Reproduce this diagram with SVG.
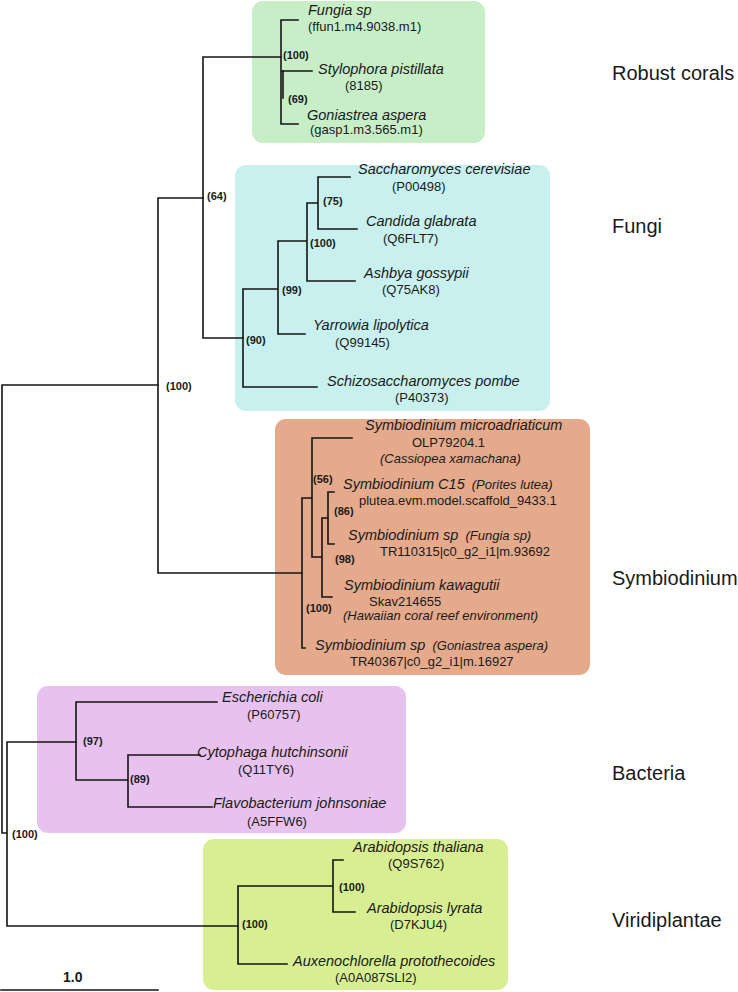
<svg xmlns="http://www.w3.org/2000/svg" width="738" height="992" viewBox="0 0 738 992">
<style>
.t{font-family:"Liberation Sans",Arial,Helvetica,sans-serif;fill:#1a1a1a}
.sp{font-size:14.5px;font-style:italic}
.ss{font-size:13px;font-style:italic}
.id{font-size:13px}
.bs{font-size:11px;font-weight:bold}
.grp{font-size:20px}
.br{stroke:#141414;stroke-width:1.6;fill:none;stroke-linecap:square}
</style>
<rect width="738" height="992" fill="#ffffff"/>
<g id="robust-corals">
<rect x="252" y="1" width="233" height="142" rx="11" fill="#c8eec8"/>
<text class="t sp" x="308" y="15">Fungia sp</text>
<text class="t id" x="308" y="31">(ffun1.m4.9038.m1)</text>
<text class="t bs" x="283" y="59">(100)</text>
<text class="t sp" x="318" y="74">Stylophora pistillata</text>
<text class="t id" x="345" y="90">(8185)</text>
<text class="t bs" x="288" y="103">(69)</text>
<text class="t sp" x="307" y="120">Goniastrea aspera</text>
<text class="t id" x="310" y="134">(gasp1.m3.565.m1)</text>
<text class="t grp" x="612" y="80">Robust corals</text>
</g>
<g id="fungi">
<rect x="235" y="165" width="315" height="246" rx="11" fill="#c8f0ee"/>
<text class="t sp" x="358" y="174">Saccharomyces cerevisiae</text>
<text class="t id" x="392" y="191">(P00498)</text>
<text class="t bs" x="323" y="205">(75)</text>
<text class="t sp" x="366" y="226">Candida glabrata</text>
<text class="t id" x="383" y="243">(Q6FLT7)</text>
<text class="t bs" x="310" y="247">(100)</text>
<text class="t sp" x="364" y="278">Ashbya gossypii</text>
<text class="t id" x="382" y="294">(Q75AK8)</text>
<text class="t bs" x="282" y="294">(99)</text>
<text class="t sp" x="313" y="330">Yarrowia lipolytica</text>
<text class="t id" x="335" y="347">(Q99145)</text>
<text class="t bs" x="246" y="344">(90)</text>
<text class="t sp" x="327" y="386">Schizosaccharomyces pombe</text>
<text class="t id" x="395" y="402">(P40373)</text>
<text class="t grp" x="612" y="233">Fungi</text>
</g>
<g id="symbiodinium">
<rect x="275" y="419" width="315" height="256" rx="11" fill="#e5aa8c"/>
<text class="t sp" x="365" y="430">Symbiodinium microadriaticum</text>
<text class="t id" x="412" y="447">OLP79204.1</text>
<text class="t ss" x="380" y="463">(Cassiopea xamachana)</text>
<text class="t bs" x="313" y="483">(56)</text>
<text class="t sp" x="343" y="489">Symbiodinium C15 <tspan class="ss" dx="3">(Porites lutea)</tspan></text>
<text class="t id" x="359" y="505">plutea.evm.model.scaffold_9433.1</text>
<text class="t bs" x="334" y="515">(86)</text>
<text class="t sp" x="348" y="540">Symbiodinium sp <tspan class="ss" dx="3">(Fungia sp)</tspan></text>
<text class="t id" x="380" y="556">TR110315|c0_g2_i1|m.93692</text>
<text class="t bs" x="335" y="563">(98)</text>
<text class="t sp" x="344" y="590">Symbiodinium kawagutii</text>
<text class="t id" x="369" y="606">Skav214655</text>
<text class="t bs" x="306" y="612">(100)</text>
<text class="t ss" x="343" y="620">(Hawaiian coral reef environment)</text>
<text class="t sp" x="315" y="650">Symbiodinium sp <tspan class="ss" dx="3">(Goniastrea aspera)</tspan></text>
<text class="t id" x="350" y="666">TR40367|c0_g2_i1|m.16927</text>
<text class="t grp" x="612" y="585">Symbiodinium</text>
</g>
<g id="bacteria">
<rect x="37" y="686" width="369" height="147" rx="11" fill="#e8c2ee"/>
<text class="t sp" x="222" y="702">Escherichia coli</text>
<text class="t id" x="247" y="719">(P60757)</text>
<text class="t bs" x="83" y="745">(97)</text>
<text class="t sp" x="197" y="757">Cytophaga hutchinsonii</text>
<text class="t id" x="238" y="774">(Q11TY6)</text>
<text class="t bs" x="130" y="783">(89)</text>
<text class="t sp" x="213" y="808">Flavobacterium johnsoniae</text>
<text class="t id" x="247" y="826">(A5FFW6)</text>
<text class="t grp" x="612" y="780">Bacteria</text>
</g>
<g id="viridiplantae">
<rect x="203" y="839" width="305" height="151" rx="11" fill="#d8ee92"/>
<text class="t sp" x="353" y="852">Arabidopsis thaliana</text>
<text class="t id" x="388" y="868">(Q9S762)</text>
<text class="t bs" x="339" y="891">(100)</text>
<text class="t sp" x="367" y="913">Arabidopsis lyrata</text>
<text class="t id" x="390" y="929">(D7KJU4)</text>
<text class="t bs" x="242" y="928">(100)</text>
<text class="t sp" x="293" y="966">Auxenochlorella protothecoides</text>
<text class="t id" x="335" y="982">(A0A087SLI2)</text>
<text class="t grp" x="612" y="927">Viridiplantae</text>
</g>
<g id="root-support">
<text class="t bs" x="166" y="390">(100)</text>
<text class="t bs" x="207" y="200">(64)</text>
<text class="t bs" x="12" y="838">(100)</text>
</g>
<g id="connectors">
<path class="br" d="M2,385V833H7M7,742V926M2,385H158M7,742H76M7,926H238"/>
<path class="br" d="M158,198V573M158,198H203M158,573H302"/>
<path class="br" d="M203,57V338M203,57H281M203,338H243"/>
<path class="br" d="M281,20V124M281,20H298M281,71H312M281,124H298"/>
<path class="br" d="M283,71V98" stroke-width="2"/>
<path class="br" d="M243,289V387M243,289H278M243,387H317M278,241V334M278,334H305M278,241H307M307,203V281M307,281H355M307,203H318M318,177V229M318,177H350M318,229H357"/>
<path class="br" d="M302,498V648H305M302,498H312M312,438V557M312,438H352M312,557H322M322,518V597H332M322,518H328M328,492V544M328,492H334M328,544H334"/>
<path class="br" d="M76,702V780M76,702H217M76,780H128M128,755V807M128,755H200M128,807H212"/>
<path class="br" d="M238,886V964M238,886H333M238,964H287M333,860V912M333,860H343M333,912H355"/>
</g>
<g id="scale">
<path class="br" d="M1,990H158"/>
<text class="t" x="63" y="982" style="font-size:14px;font-weight:bold">1.0</text>
</g>
</svg>
